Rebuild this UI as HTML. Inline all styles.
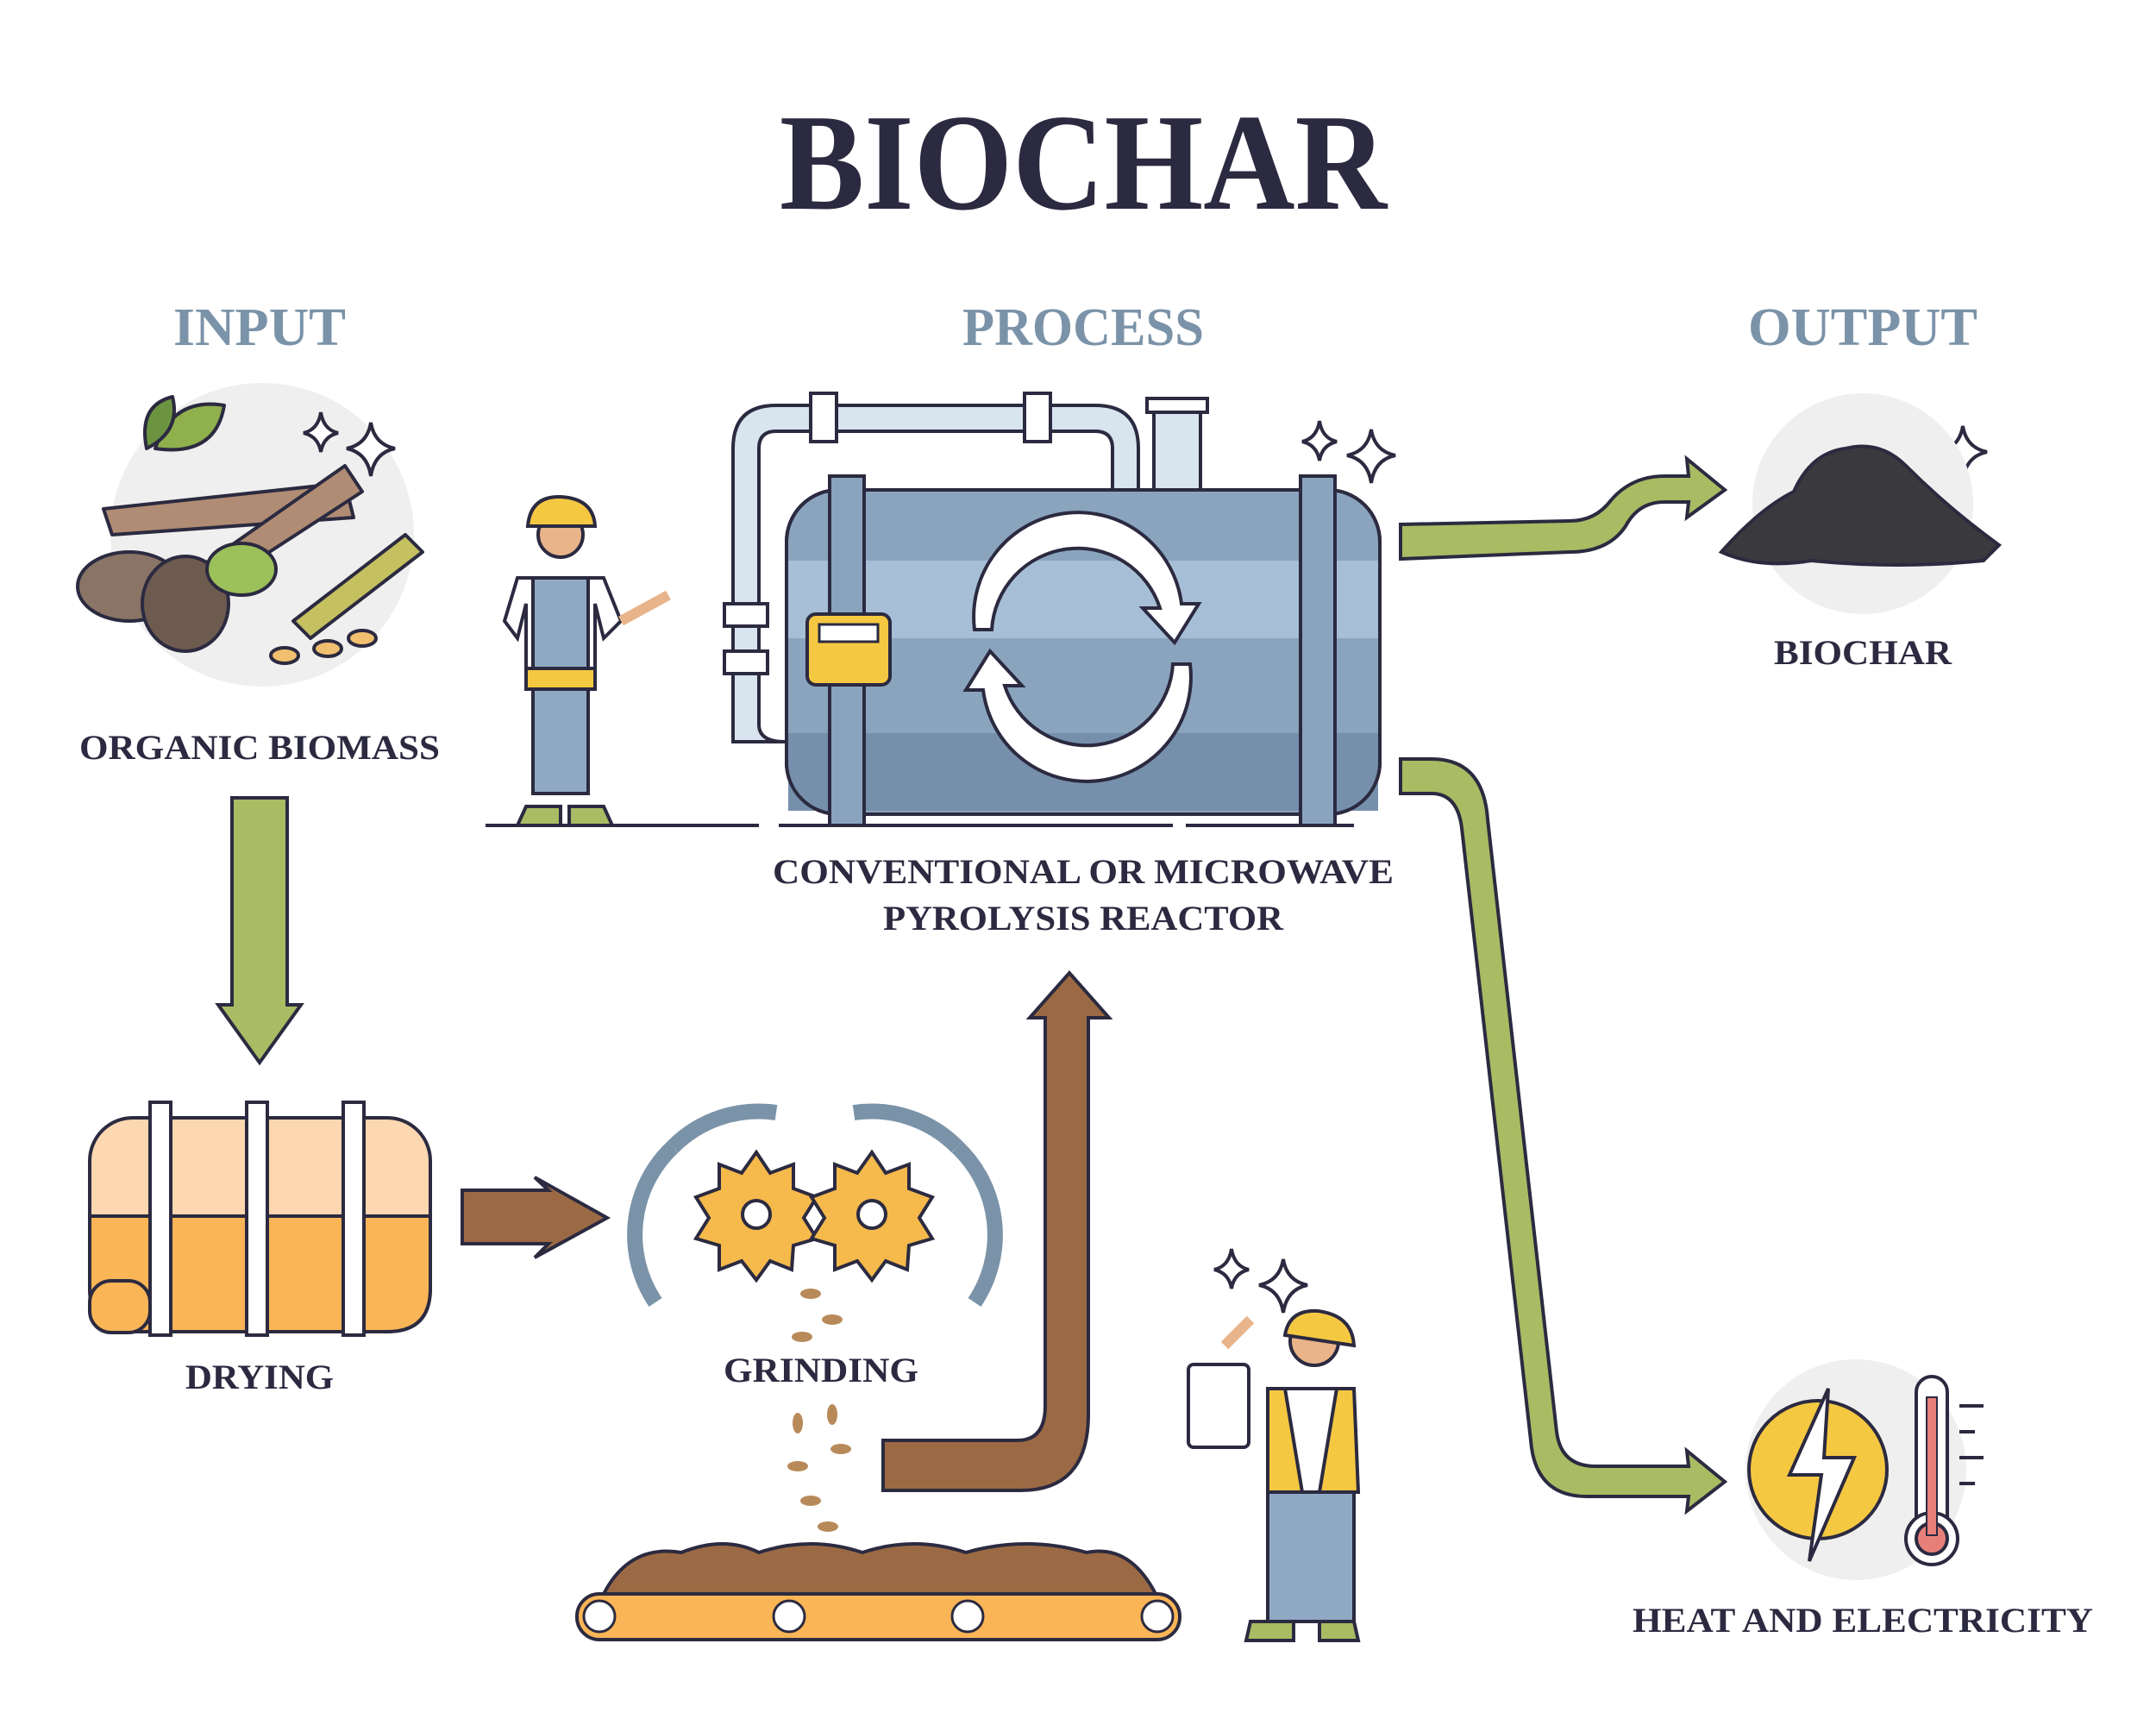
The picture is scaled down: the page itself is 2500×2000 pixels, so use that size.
<!DOCTYPE html>
<html><head><meta charset="utf-8"><style>
html,body{margin:0;padding:0;background:#fff;}
svg{display:block;}
text{font-family:"Liberation Serif","DejaVu Serif",serif;font-weight:bold;}
</style></head><body>
<svg width="2500" height="2000" viewBox="0 0 2500 2000" xmlns="http://www.w3.org/2000/svg">
<rect width="2500" height="2000" fill="#fff"/>
<!-- titles -->
<text x="1256" y="242" text-anchor="middle" font-size="160" fill="#2b2a40" textLength="704" lengthAdjust="spacingAndGlyphs">BIOCHAR</text>
<text x="301" y="400" text-anchor="middle" font-size="62" fill="#7b93a8" textLength="200" lengthAdjust="spacingAndGlyphs">INPUT</text>
<text x="1256" y="400" text-anchor="middle" font-size="62" fill="#7b93a8" textLength="280" lengthAdjust="spacingAndGlyphs">PROCESS</text>
<text x="2160" y="400" text-anchor="middle" font-size="62" fill="#7b93a8" textLength="266" lengthAdjust="spacingAndGlyphs">OUTPUT</text>

<g stroke="#2b2a40" stroke-width="4" stroke-linejoin="round">
<!-- INPUT biomass -->
<circle cx="304" cy="620" r="176" fill="#efefef" stroke="none"/>
<path d="M120 590 L400 560 L410 600 L130 620 Z" fill="#b08c74"/>
<path d="M200 680 L400 540 L420 570 L220 700 Z" fill="#b08c74"/>
<ellipse cx="150" cy="680" rx="60" ry="40" fill="#8a7466"/>
<ellipse cx="215" cy="700" rx="50" ry="55" fill="#6e5b50"/>
<path d="M180 520 Q200 460 260 470 Q250 530 180 520Z" fill="#8fb04d"/>
<path d="M170 520 Q160 470 200 460 Q210 500 170 520Z" fill="#6c9440"/>
<ellipse cx="280" cy="660" rx="40" ry="30" fill="#9cc05a"/>
<path d="M340 720 L470 620 L490 640 L360 740Z" fill="#c5c060"/>
<ellipse cx="330" cy="760" rx="16" ry="9" fill="#f0c070"/>
<ellipse cx="380" cy="752" rx="16" ry="9" fill="#f0c070"/>
<ellipse cx="420" cy="740" rx="16" ry="9" fill="#f0c070"/>
</g>
<text x="301" y="880" text-anchor="middle" font-size="40" fill="#2b2a40" textLength="418" lengthAdjust="spacingAndGlyphs">ORGANIC BIOMASS</text>

<!-- down green arrow -->
<path d="M269 925 L333 925 L333 1165 L349 1165 L301 1232 L253 1165 L269 1165 Z" fill="#a9bb63" stroke="#2b2a40" stroke-width="4"/>

<!-- drying tank -->
<g stroke="#2b2a40" stroke-width="4">
<rect x="104" y="1296" width="395" height="248" rx="50" fill="#fcd7b0"/>
<path d="M104 1410 L499 1410 L499 1494 Q499 1544 449 1544 L154 1544 Q104 1544 104 1494Z" fill="#f9b556"/>
<rect x="174" y="1278" width="24" height="270" fill="#fff"/>
<rect x="286" y="1278" width="24" height="270" fill="#fff"/>
<rect x="398" y="1278" width="24" height="270" fill="#fff"/>
<rect x="104" y="1485" width="70" height="60" rx="25" fill="#f9b556"/>
</g>
<text x="301" y="1610" text-anchor="middle" font-size="40" fill="#2b2a40" textLength="172" lengthAdjust="spacingAndGlyphs">DRYING</text>

<!-- brown right arrow -->
<path d="M536 1380 L636 1380 L620 1365 L704 1412 L620 1458 L636 1442 L536 1442Z" fill="#9b6a44" stroke="#2b2a40" stroke-width="4"/>

<!-- gears -->
<g stroke="#2b2a40" stroke-width="4">
<path d="M780 1330 A140 140 0 0 0 760 1510" fill="none" stroke="#7b93a8" stroke-width="18"/>
<path d="M1110 1330 A140 140 0 0 1 1130 1510" fill="none" stroke="#7b93a8" stroke-width="18"/>
<path d="M900 1290 A140 140 0 0 0 780 1330" fill="none" stroke="#7b93a8" stroke-width="18"/>
<path d="M990 1290 A140 140 0 0 1 1110 1330" fill="none" stroke="#7b93a8" stroke-width="18"/>
<polygon points="877,1336 893,1360 920,1350 920,1378 947,1388 932,1412 947,1436 920,1444 918,1472 893,1462 877,1484 860,1462 834,1472 834,1444 807,1436 822,1412 807,1388 834,1378 834,1350 860,1360" fill="#f5b94c"/>
<circle cx="877" cy="1408" r="16" fill="#fff"/>
<polygon points="1011,1336 1027,1360 1054,1350 1054,1378 1081,1388 1066,1412 1081,1436 1054,1444 1052,1472 1027,1462 1011,1484 994,1462 968,1472 968,1444 941,1436 956,1412 941,1388 968,1378 968,1350 994,1360" fill="#f5b94c"/>
<circle cx="1011" cy="1408" r="16" fill="#fff"/>
</g>
<g fill="#b88a5a">
<ellipse cx="940" cy="1500" rx="12" ry="6"/><ellipse cx="965" cy="1530" rx="12" ry="6"/><ellipse cx="930" cy="1550" rx="12" ry="6"/>
<ellipse cx="925" cy="1650" rx="6" ry="12"/><ellipse cx="965" cy="1640" rx="6" ry="12"/><ellipse cx="975" cy="1680" rx="12" ry="6"/>
<ellipse cx="925" cy="1700" rx="12" ry="6"/><ellipse cx="940" cy="1740" rx="12" ry="6"/><ellipse cx="960" cy="1770" rx="12" ry="6"/>
</g>
<text x="952" y="1602" text-anchor="middle" font-size="40" fill="#2b2a40" textLength="226" lengthAdjust="spacingAndGlyphs">GRINDING</text>

<!-- conveyor -->
<path d="M700 1848 Q730 1790 790 1800 Q840 1780 880 1800 Q940 1780 1000 1800 Q1060 1780 1120 1800 Q1190 1780 1260 1800 Q1310 1790 1340 1848Z" fill="#9b6a44" stroke="#2b2a40" stroke-width="4"/>
<rect x="669" y="1848" width="699" height="53" rx="26" fill="#f9b556" stroke="#2b2a40" stroke-width="4"/>
<g fill="#fff" stroke="#2b2a40" stroke-width="3"><circle cx="695" cy="1874" r="18"/><circle cx="915" cy="1874" r="18"/><circle cx="1122" cy="1874" r="18"/><circle cx="1342" cy="1874" r="18"/></g>

<!-- brown up arrow -->
<path d="M1024 1670 L1180 1670 Q1212 1670 1212 1630 L1212 1180 L1194 1180 L1240 1128 L1286 1180 L1262 1180 L1262 1640 Q1262 1730 1180 1728 L1024 1728Z" fill="#9b6a44" stroke="#2b2a40" stroke-width="4"/>

<!-- worker 1 -->
<g stroke="#2b2a40" stroke-width="4">
<circle cx="650" cy="620" r="26" fill="#e9b48a"/>
<path d="M612 610 Q615 575 650 576 Q688 578 690 610Z" fill="#f5c842"/>
<path d="M600 670 L700 670 L720 720 L700 740 L690 700 L690 790 L610 790 L610 700 L600 740 L585 720Z" fill="#fff"/>
<rect x="618" y="670" width="64" height="250" fill="#8fa9c4"/>
<rect x="610" y="775" width="80" height="24" fill="#f5c842"/>
<path d="M720 720 L775 690" stroke-width="12" stroke="#e9b48a"/>
<path d="M610 935 L650 935 L650 957 L600 957Z" fill="#a9bb63"/>
<path d="M660 935 L700 935 L710 957 L660 957Z" fill="#a9bb63"/>
</g>
<line x1="563" y1="957" x2="880" y2="957" stroke="#2b2a40" stroke-width="4"/>
<line x1="903" y1="957" x2="1360" y2="957" stroke="#2b2a40" stroke-width="4"/>
<line x1="1375" y1="957" x2="1570" y2="957" stroke="#2b2a40" stroke-width="4"/>

<!-- reactor pipes -->
<g stroke="#2b2a40" stroke-width="4" fill="#d8e4ee">
<path d="M850 860 L850 520 Q850 470 900 470 L1270 470 Q1320 470 1320 520 L1320 570 L1290 570 L1290 520 Q1290 500 1270 500 L900 500 Q880 500 880 520 L880 840 Q880 860 910 860Z"/>
<rect x="1338" y="468" width="54" height="110"/>
<rect x="1330" y="462" width="70" height="16" fill="#fff"/>
<rect x="940" y="456" width="30" height="56" fill="#fff"/>
<rect x="1188" y="456" width="30" height="56" fill="#fff"/>
<rect x="840" y="700" width="50" height="26" fill="#fff"/>
<rect x="840" y="755" width="50" height="26" fill="#fff"/>
</g>
<!-- reactor tank -->
<g stroke="#2b2a40" stroke-width="4">
<rect x="912" y="568" width="688" height="376" rx="60" fill="#8aa4be"/>
<rect x="914" y="650" width="684" height="90" fill="#a7bfd6" stroke="none"/>
<rect x="914" y="850" width="684" height="90" fill="#7690ac" stroke="none"/>
<rect x="912" y="568" width="688" height="376" rx="60" fill="none"/>
<rect x="962" y="552" width="40" height="405" fill="#8aa4be"/>
<rect x="1508" y="552" width="40" height="405" fill="#8aa4be"/>
<rect x="936" y="712" width="96" height="82" rx="10" fill="#f5c842"/>
<rect x="950" y="724" width="68" height="20" fill="#fff" stroke-width="3"/>
</g>
<g fill="#fff" stroke="#2b2a40" stroke-width="4">
<path d="M1130 730 A120 120 0 0 1 1370 700 L1390 700 L1362 745 L1325 705 L1345 705 A100 100 0 0 0 1150 730Z"/>
<path d="M1380 770 A120 120 0 0 1 1140 800 L1120 800 L1148 755 L1185 795 L1165 795 A100 100 0 0 0 1360 770Z"/>
</g>
<text x="1256" y="1024" text-anchor="middle" font-size="40" fill="#2b2a40" textLength="720" lengthAdjust="spacingAndGlyphs">CONVENTIONAL OR MICROWAVE</text>
<text x="1256" y="1078" text-anchor="middle" font-size="40" fill="#2b2a40" textLength="464" lengthAdjust="spacingAndGlyphs">PYROLYSIS REACTOR</text>

<!-- sparkles -->
<g fill="#fff" stroke="#2b2a40" stroke-width="4">
<path d="M372 478 Q375 498 392 502 Q375 506 372 524 Q369 506 352 502 Q369 498 372 478Z"/>
<path d="M430 490 Q434 515 458 520 Q434 525 430 552 Q426 525 402 520 Q426 515 430 490Z"/>
<path d="M1530 488 Q1533 508 1550 512 Q1533 516 1530 534 Q1527 516 1510 512 Q1527 508 1530 488Z"/>
<path d="M1590 498 Q1594 523 1618 528 Q1594 533 1590 560 Q1586 533 1562 528 Q1586 523 1590 498Z"/>
<path d="M2216 480 Q2219 500 2236 504 Q2219 508 2216 526 Q2213 508 2196 504 Q2213 500 2216 480Z"/>
<path d="M2276 494 Q2280 519 2304 524 Q2280 529 2276 556 Q2272 529 2248 524 Q2272 519 2276 494Z"/>
<path d="M1428 1448 Q1431 1468 1448 1472 Q1431 1476 1428 1494 Q1425 1476 1408 1472 Q1425 1468 1428 1448Z"/>
<path d="M1488 1460 Q1492 1485 1516 1490 Q1492 1495 1488 1522 Q1484 1495 1460 1490 Q1484 1485 1488 1460Z"/>
</g>

<!-- green arrow to biochar -->
<path d="M1624 608 L1820 604 Q1850 604 1868 580 Q1892 552 1930 552 L1958 552 L1956 532 L2000 568 L1956 600 L1958 582 L1930 582 Q1900 582 1885 610 Q1865 640 1820 640 L1624 648Z" fill="#a9bb63" stroke="#2b2a40" stroke-width="4"/>
<!-- biochar -->
<circle cx="2160" cy="584" r="128" fill="#efefef"/>
<path d="M1996 640 Q2040 590 2080 570 Q2100 525 2140 520 Q2180 510 2210 540 Q2260 590 2318 632 L2300 650 Q2200 660 2100 650 Q2040 660 1996 640Z" fill="#3a3a3e" stroke="#2b2a40" stroke-width="4"/>
<text x="2160" y="770" text-anchor="middle" font-size="40" fill="#2b2a40" textLength="206" lengthAdjust="spacingAndGlyphs">BIOCHAR</text>

<!-- green long arrow -->
<path d="M1624 880 L1660 880 Q1720 880 1725 950 L1805 1660 Q1810 1700 1850 1700 L1958 1700 L1956 1682 L2000 1718 L1956 1752 L1958 1735 L1840 1735 Q1780 1735 1775 1670 L1695 960 Q1690 920 1660 920 L1624 920Z" fill="#a9bb63" stroke="#2b2a40" stroke-width="4"/>

<!-- heat & electricity -->
<circle cx="2152" cy="1704" r="128" fill="#efefef"/>
<circle cx="2108" cy="1704" r="80" fill="#f5c842" stroke="#2b2a40" stroke-width="4"/>
<path d="M2120 1610 L2075 1710 L2112 1710 L2098 1810 L2150 1690 L2115 1690 Z" fill="#fff" stroke="#2b2a40" stroke-width="4"/>
<g stroke="#2b2a40" stroke-width="4">
<rect x="2222" y="1596" width="36" height="190" rx="18" fill="#fff"/>
<circle cx="2240" cy="1784" r="30" fill="#fff"/>
<circle cx="2240" cy="1784" r="18" fill="#e8807a"/>
<rect x="2234" y="1620" width="12" height="160" fill="#e8807a" stroke-width="2"/>
<line x1="2272" y1="1630" x2="2300" y2="1630"/><line x1="2272" y1="1660" x2="2290" y2="1660"/><line x1="2272" y1="1690" x2="2300" y2="1690"/><line x1="2272" y1="1720" x2="2290" y2="1720"/>
</g>
<text x="2160" y="1892" text-anchor="middle" font-size="40" fill="#2b2a40" textLength="534" lengthAdjust="spacingAndGlyphs">HEAT AND ELECTRICITY</text>

<!-- worker 2 -->
<g stroke="#2b2a40" stroke-width="4">
<circle cx="1524" cy="1555" r="28" fill="#e9b48a"/>
<path d="M1490 1548 Q1495 1518 1528 1520 Q1568 1525 1570 1560Z" fill="#f5c842"/>
<path d="M1470 1610 L1570 1610 L1575 1730 L1470 1730Z" fill="#f5c842"/>
<path d="M1490 1610 L1510 1730 L1530 1730 L1550 1610Z" fill="#fff"/>
<rect x="1378" y="1582" width="70" height="96" rx="6" fill="#fff"/>
<path d="M1420 1560 L1450 1530" stroke="#e9b48a" stroke-width="12"/>
<rect x="1470" y="1730" width="100" height="150" fill="#8fa9c4"/>
<path d="M1450 1880 L1500 1880 L1500 1902 L1445 1902Z" fill="#a9bb63"/>
<path d="M1530 1880 L1570 1880 L1575 1902 L1530 1902Z" fill="#a9bb63"/>
</g>
</svg>
</body></html>
